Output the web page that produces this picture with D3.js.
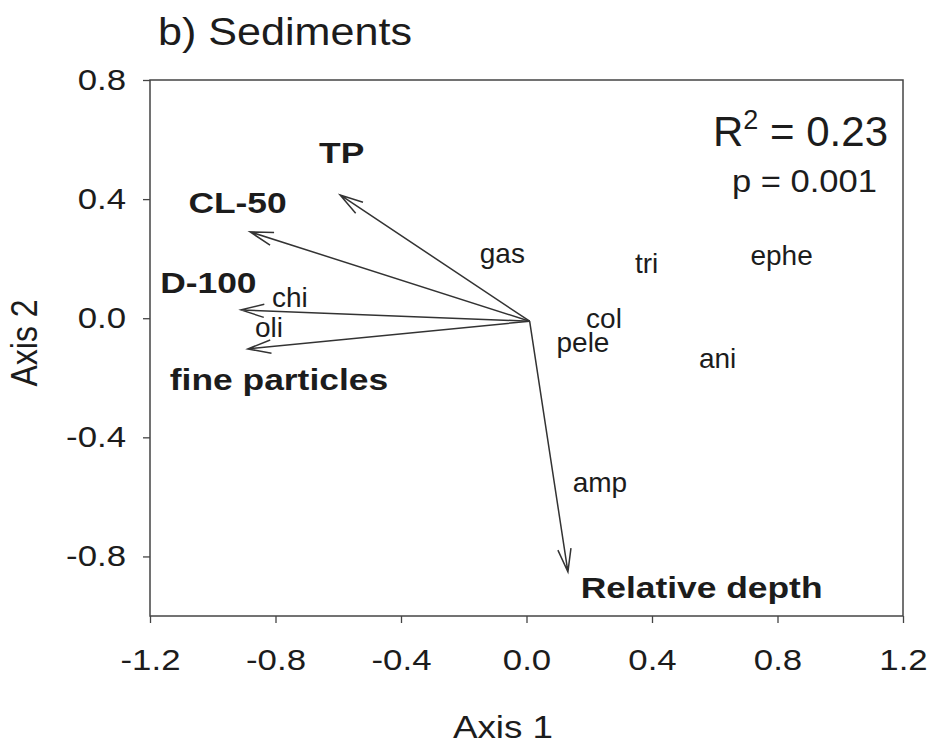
<!DOCTYPE html>
<html>
<head>
<meta charset="utf-8">
<script src="https://cdn.jsdelivr.net/npm/d3@7"></script>
<style>
  body { margin: 0; background: #fff; }
  svg { display: block; font-family: "Liberation Sans", Arial, sans-serif; }
</style>
</head>
<body>
<svg width="929" height="745"></svg>
<script>
// values
var xTicks = [-1.2, -0.8, -0.4, 0.0, 0.4, 0.8, 1.2];
var yTicks = [0.8, 0.4, 0.0, -0.4, -0.8];

var origin = [0.01, -0.01];

var envNames  = ["TP", "CL-50", "D-100", "fine particles", "Relative depth"];
var envX      = [-0.594, -0.881, -0.91, -0.888, 0.132];
var envY      = [0.414, 0.29, 0.028, -0.103, -0.852];
var envLabelX = [-0.589, -0.921, -1.014, -0.789, 0.558];
var envLabelY = [0.52, 0.352, 0.084, -0.241, -0.94];

var spNames = ["gas", "tri", "ephe", "col", "pele", "ani", "amp", "chi", "oli"];
var spX     = [-0.077, 0.383, 0.813, 0.247, 0.18, 0.609, 0.234, -0.754, -0.821];
var spY     = [0.186, 0.153, 0.179, -0.032, -0.115, -0.167, -0.583, 0.039, -0.062];

var svg = d3.select("svg");
var ink = "#1c1c1c";

var x = d3.scaleLinear().domain([-1.2, 1.2]).range([150, 903]);
var y = d3.scaleLinear().domain([-1.0, 0.8]).range([616, 80]);

var fmt = function(d) { return d.toFixed(1); };

// text helper, sx stretches glyphs horizontally (the scan is wider than tall)
function label(px, py, txt, size, weight, anchor, sx) {
  return svg.append("text")
    .attr("transform", "translate(" + px + "," + py + ") scale(" + (sx || 1) + ",1)")
    .attr("text-anchor", anchor || "middle")
    .attr("font-size", size + "px")
    .attr("font-weight", weight || "normal")
    .attr("fill", ink)
    .text(txt);
}

// title
label(158, 45, "b) Sediments", 38, "normal", "start", 1.135);

// axes
var xAxis = svg.append("g")
    .attr("transform", "translate(0," + y(-1.0) + ")")
    .call(d3.axisBottom(x).tickValues(xTicks).tickFormat(fmt).tickSize(7).tickSizeOuter(0).tickPadding(26));
var yAxis = svg.append("g")
    .attr("transform", "translate(" + x(-1.2) + ",0)")
    .call(d3.axisLeft(y).tickValues(yTicks).tickFormat(fmt).tickSize(7).tickSizeOuter(0).tickPadding(17));

svg.selectAll(".domain").remove();
svg.selectAll(".tick line").attr("stroke", "#444").attr("stroke-width", 1.3);

xAxis.selectAll(".tick text")
    .attr("font-size", "29px")
    .attr("font-family", "Liberation Sans, Arial, sans-serif")
    .attr("fill", ink)
    .attr("transform", "scale(1.2,1)");

yAxis.selectAll(".tick text")
    .attr("font-size", "29px")
    .attr("font-family", "Liberation Sans, Arial, sans-serif")
    .attr("fill", ink)
    .attr("x", 0)
    .attr("transform", "translate(-24,0) scale(1.2,1)");

// frame
svg.append("rect")
    .attr("x", x(-1.2))
    .attr("y", y(0.8))
    .attr("width", x(1.2) - x(-1.2))
    .attr("height", y(-1.0) - y(0.8))
    .attr("fill", "none")
    .attr("stroke", "#444")
    .attr("stroke-width", 1.5);

// axis titles
label(503, 738, "Axis 1", 32, "normal", "middle", 1.15);
svg.append("text")
    .attr("transform", "translate(37,343) scale(1.15,1) rotate(-90)")
    .attr("text-anchor", "middle")
    .attr("font-size", "32px")
    .attr("fill", ink)
    .text("Axis 2");

// arrows
var ox = x(origin[0]), oy = y(origin[1]);
var headLen = 24, headAng = 16 * Math.PI / 180;

envNames.forEach(function(name, i) {
  var tx = x(envX[i]), ty = y(envY[i]);
  var a = Math.atan2(ty - oy, tx - ox);
  var p = "M" + ox + "," + oy + "L" + tx + "," + ty +
    "M" + (tx - headLen * Math.cos(a - headAng)) + "," + (ty - headLen * Math.sin(a - headAng)) +
    "L" + tx + "," + ty +
    "L" + (tx - headLen * Math.cos(a + headAng)) + "," + (ty - headLen * Math.sin(a + headAng));
  svg.append("path")
    .attr("d", p)
    .attr("fill", "none")
    .attr("stroke", "#333")
    .attr("stroke-width", 1.5);
});

// environmental labels
envNames.forEach(function(name, i) {
  label(x(envLabelX[i]), y(envLabelY[i]), name, 30, "bold", "middle", 1.18);
});

// species labels
spNames.forEach(function(name, i) {
  label(x(spX[i]), y(spY[i]), name, 28, "normal", "middle", 1);
});

// stats
var r2 = svg.append("text")
    .attr("x", 888).attr("y", 146)
    .attr("text-anchor", "end")
    .attr("font-size", "42px")
    .attr("fill", ink);
r2.append("tspan").text("R");
r2.append("tspan").attr("font-size", "27px").attr("dy", -17).text("2");
r2.append("tspan").attr("dy", 17).text(" = 0.23");

label(877, 192, "p = 0.001", 32, "normal", "end", 1.08);
</script>
</body>
</html>
